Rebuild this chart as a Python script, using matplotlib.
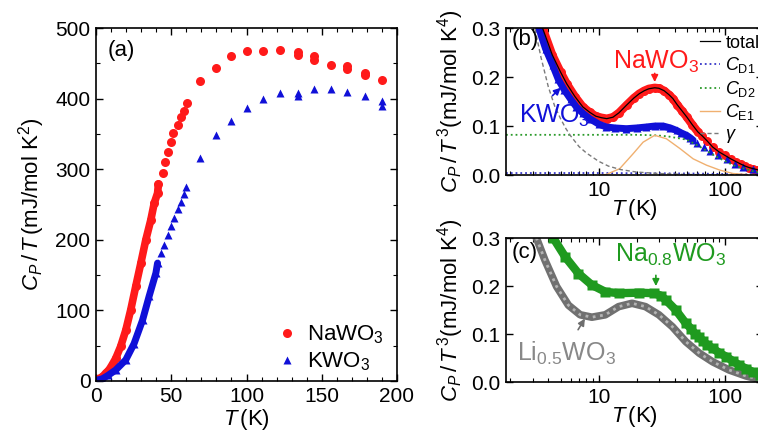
import matplotlib
matplotlib.use("Agg")
import matplotlib.pyplot as plt
from matplotlib.ticker import MultipleLocator, LogLocator, NullFormatter, FixedLocator

plt.rcParams['font.family'] = ['Liberation Sans', 'DejaVu Sans']
plt.rcParams['mathtext.fontset'] = 'custom'
plt.rcParams['mathtext.rm'] = 'Liberation Sans'
plt.rcParams['mathtext.it'] = 'Liberation Sans:italic'
plt.rcParams['mathtext.bf'] = 'Liberation Sans:bold'

RED = '#ff1a1a'
BLUE = '#1010d8'
GREEN = '#1f9a1f'
GRAY = '#6e6e6e'

# ---- panel (a): C/T vs T ----
na_T_dense = [0.5, 2, 4.2, 6.4, 8.7, 11, 13.1, 16.4, 19.8, 23.1, 26.4, 29.8, 33.1, 36.4, 38.7, 40.9, 41.5]
na_CT_dense = [3, 3.5, 6, 11, 16, 24, 32, 49, 72, 101, 134, 167, 200, 228, 252, 266, 279]
na_T_mid = [44.2, 45.8, 47.6, 49.8, 51.3, 54.2, 56.4, 58.2, 60.4]
na_CT_mid = [295, 310, 325, 339, 351, 363, 374, 382, 394]
na_T_high = [69, 80, 90, 100, 111, 122, 134, 134, 145, 145, 156, 167, 167, 179, 179, 190]
na_CT_high = [425, 443, 460, 467, 468, 469, 466, 462, 461, 455, 448, 446, 442, 436, 433, 426]

k_T_dense = [0.5, 2, 4.2, 8, 13.1, 19.8, 25.3, 30.9, 35.3, 39.8, 40.9]
k_CT_dense = [1, 2, 3, 8, 15.6, 30, 53, 86, 120, 153, 167]
k_T_mid = [43.1, 45.3, 47.6, 49.8, 52, 54.2, 56.4, 58.2, 59.8]
k_CT_mid = [181, 193, 207, 219, 231, 243, 254, 265, 275]
k_T_high = [69, 80, 90, 100, 111, 122, 134, 134, 145, 156, 167, 179, 190, 190]
k_CT_high = [316, 349, 368, 387, 399, 408, 408, 403, 413, 413, 409, 403, 396, 389]

# ---- panel (b): C/T^3 vs T (log) ----
nb_T = [3.0, 3.6, 4.3, 5.0, 5.6, 6.5, 7.5, 8.5, 9.5, 10.5, 11.6, 13, 14.5, 16.7, 19, 21, 23, 25,
        27.8, 30, 33, 36, 38.7, 42, 46, 50, 55, 61]
nb_C = [0.42, 0.30, 0.245, 0.21, 0.186, 0.16, 0.139, 0.128, 0.12, 0.117, 0.115, 0.118, 0.127, 0.143,
        0.157, 0.166, 0.172, 0.176, 0.178, 0.177, 0.172, 0.164, 0.156, 0.143, 0.13, 0.118, 0.103, 0.088]
nb_T_high = [66, 72, 80, 90, 100, 111, 123, 134, 145, 156, 167, 179, 190]
nb_C_high = [0.08, 0.07, 0.057, 0.047, 0.04, 0.033, 0.027, 0.022, 0.018, 0.015, 0.013, 0.011, 0.009]

kb_T = [3.0, 3.36, 3.8, 4.33, 4.8, 5.37, 6.0, 6.66, 7.5, 8.5, 10, 11.5, 13.5, 16.6, 20, 23.9, 28,
        32.4, 37, 41.4, 45, 49.7, 53, 56]
kb_C = [0.37, 0.3, 0.258, 0.224, 0.195, 0.173, 0.155, 0.139, 0.126, 0.115, 0.104, 0.098, 0.096,
        0.0945, 0.096, 0.098, 0.1, 0.1, 0.096, 0.091, 0.086, 0.081, 0.076, 0.071]
kb_T_high = [60, 68, 76, 88.6, 103, 120, 140, 167, 190]
kb_C_high = [0.066, 0.057, 0.05, 0.04, 0.032, 0.023, 0.016, 0.013, 0.011]

d1_T = [1.85, 10, 30, 60, 100, 200]
d1_C = [0.004, 0.004, 0.0035, 0.003, 0.002, 0.001]
d2_T = [1.85, 10, 20, 28, 35, 50, 63, 86, 116, 167, 200]
d2_C = [0.082, 0.082, 0.082, 0.081, 0.079, 0.072, 0.058, 0.037, 0.02, 0.0075, 0.004]
e1_T = [10, 11.5, 14.7, 18.7, 22.5, 27.8, 34.4, 44, 56, 71.5, 91, 116, 150]
e1_C = [0.0, 0.001, 0.013, 0.043, 0.067, 0.081, 0.074, 0.054, 0.033, 0.02, 0.01, 0.003, 0.001]
g_T = [2.9, 3.5, 4, 4.5, 5, 5.5, 6, 7, 8, 10, 12, 15, 20, 30, 50, 200]
g_C = [0.34, 0.24, 0.18, 0.14, 0.115, 0.095, 0.08, 0.058, 0.045, 0.028, 0.018, 0.011, 0.006, 0.003, 0.001, 0.0]

# ---- panel (c) ----
nac_T = [3.5, 4.38, 5.43, 6.93, 8.85, 11.3, 14.4, 20.9, 27.4, 31, 34, 40.8, 49.1, 54, 58, 62.7, 67,
         72, 80, 90, 102, 115, 130, 147, 166, 190]
nac_C = [0.37, 0.3, 0.261, 0.226, 0.202, 0.188, 0.185, 0.186, 0.185, 0.18, 0.171, 0.15, 0.122, 0.111,
         0.1, 0.094, 0.085, 0.078, 0.07, 0.061, 0.053, 0.044, 0.035, 0.028, 0.021, 0.015]
li_T = [2.8, 3.22, 3.76, 4.65, 5.77, 7.15, 8.85, 11.3, 14.4, 18.4, 23.5, 30, 38.4, 49, 62.7, 80, 108,
        147, 178, 200]
li_C = [0.36, 0.3, 0.254, 0.199, 0.16, 0.14, 0.135, 0.14, 0.157, 0.164, 0.157, 0.14, 0.115, 0.084,
        0.06, 0.042, 0.025, 0.0125, 0.007, 0.005]

W, H = 758, 445
fig = plt.figure(figsize=(W / 100, H / 100), dpi=100)

def px_axes(l, r, t, b):
    return fig.add_axes([l / W, 1 - b / H, (r - l) / W, (b - t) / H])

def style(ax):
    ax.tick_params(which='both', direction='in', top=True, right=True, labelsize=15, pad=4)
    ax.tick_params(which='major', length=5, width=1)
    ax.tick_params(which='minor', length=3, width=0.8)
    for s in ax.spines.values():
        s.set_linewidth(1.2)

arrow = '-|>,head_length=0.4,head_width=0.2'

# (a)
axa = px_axes(96, 397, 28, 381)
axa.plot(na_T_dense, na_CT_dense, '-', color=RED, lw=5.5, solid_capstyle='round')
axa.plot(na_T_dense + na_T_mid + na_T_high, na_CT_dense + na_CT_mid + na_CT_high, 'o',
         color=RED, ms=6.5, mec='none', label=r'NaWO$_3$')
axa.plot(k_T_dense, k_CT_dense, '-', color=BLUE, lw=5, solid_capstyle='round')
axa.plot(k_T_dense + k_T_mid + k_T_high, k_CT_dense + k_CT_mid + k_CT_high, '^',
         color=BLUE, ms=6, mec='none', label=r'KWO$_3$')
axa.set_xlim(0, 200)
axa.set_ylim(0, 500)
axa.xaxis.set_major_locator(MultipleLocator(50))
axa.xaxis.set_minor_locator(MultipleLocator(10))
axa.yaxis.set_major_locator(MultipleLocator(100))
axa.yaxis.set_minor_locator(MultipleLocator(50))
style(axa)
axa.set_xlabel(r'$T\,$(K)', fontsize=16, labelpad=1)
axa.set_ylabel(r'$C_P\,/\,T\,$(mJ/mol K$^2$)', fontsize=16, labelpad=6)
axa.text(0.04, 0.935, '(a)', transform=axa.transAxes, fontsize=16, va='center', ha='left')
axa.legend(loc='lower right', bbox_to_anchor=(1.0, -0.015), frameon=False, fontsize=16,
           handletextpad=0.3, labelspacing=0.2, borderaxespad=0.2, handlelength=1.2)

# (b)
axb = px_axes(506, 763, 28, 175)
axb.plot(nb_T, nb_C, '-', color=RED, lw=6, solid_capstyle='round')
axb.plot(nb_T + nb_T_high, nb_C + nb_C_high, 'o', color=RED, ms=6.5, mec='none')
axb.plot(kb_T, kb_C, '-', color=BLUE, lw=5, solid_capstyle='round')
axb.plot(kb_T + kb_T_high, kb_C + kb_C_high, '^', color=BLUE, ms=6, mec='none')
axb.plot(nb_T + nb_T_high, nb_C + nb_C_high, '-', color='black', lw=0.9, label='total')
axb.plot(d1_T, d1_C, ':', color='#3535c8', lw=1.3, label=r'$C_{\mathrm{D1}}$')
axb.plot(d2_T, d2_C, ':', color='#2a9a2a', lw=1.3, label=r'$C_{\mathrm{D2}}$')
axb.plot(e1_T, e1_C, '-', color='#f0b070', lw=1.0, label=r'$C_{\mathrm{E1}}$')
axb.plot(g_T, g_C, '--', color='#7a7a7a', lw=1.0, dashes=(3, 2), label=r'$\gamma$')
axb.annotate('', xy=(27.8, 0.184), xytext=(27.8, 0.213),
             arrowprops=dict(arrowstyle=arrow, color=RED, lw=1.2))
axb.text(0.585, 0.77, r'NaWO$_3$', transform=axb.transAxes, color=RED, fontsize=18,
         ha='center', va='center')
axb.annotate('', xy=(5.2, 0.182), xytext=(4.16, 0.158),
             arrowprops=dict(arrowstyle=arrow, color=BLUE, lw=1.2))
axb.text(0.19, 0.40, r'KWO$_3$', transform=axb.transAxes, color=BLUE, fontsize=18,
         ha='center', va='center')
axb.text(0.02, 0.92, '(b)', transform=axb.transAxes, fontsize=16, va='center', ha='left')
axb.legend(loc='upper left', bbox_to_anchor=(0.755, 0.955), frameon=False, fontsize=13,
           handlelength=1.1, handletextpad=0.3, labelspacing=0.2, borderaxespad=0,
           borderpad=0)

# (c)
axc = px_axes(506, 763, 238, 382)
axc.plot(li_T, li_C, '-', color='#707070', lw=5.5, solid_capstyle='round')
axc.plot(li_T, li_C, ':', color='#b4b4b4', lw=2.0)
axc.plot(nac_T, nac_C, '-', color=GREEN, lw=6, solid_capstyle='round')
axc.plot(nac_T, nac_C, 's', color=GREEN, ms=6.5, mec='none')
axc.annotate('', xy=(28.4, 0.194), xytext=(28.4, 0.228),
             arrowprops=dict(arrowstyle=arrow, color=GREEN, lw=1.2))
axc.text(0.64, 0.88, r'Na$_{0.8}$WO$_3$', transform=axc.transAxes, color=GREEN, fontsize=18,
         ha='center', va='center')
axc.annotate('', xy=(8.0, 0.137), xytext=(6.7, 0.104),
             arrowprops=dict(arrowstyle=arrow, color=GRAY, lw=1.2))
axc.text(0.235, 0.20, r'Li$_{0.5}$WO$_3$', transform=axc.transAxes, color='#888888', fontsize=18,
         ha='center', va='center')
axc.text(0.02, 0.90, '(c)', transform=axc.transAxes, fontsize=16, va='center', ha='left')

for ax in (axb, axc):
    ax.set_xscale('log')
    ax.set_xlim(1.85, 200)
    ax.set_ylim(0, 0.3)
    ax.xaxis.set_major_locator(FixedLocator([10, 100]))
    ax.xaxis.set_minor_locator(LogLocator(base=10, subs=range(2, 10)))
    ax.xaxis.set_minor_formatter(NullFormatter())
    ax.set_xticklabels(['10', '100'])
    ax.yaxis.set_major_locator(MultipleLocator(0.1))
    ax.yaxis.set_major_formatter(plt.FuncFormatter(lambda v, p: '%.1f' % v))
    style(ax)
    ax.set_xlabel(r'$T\,$(K)', fontsize=16, labelpad=-2)
    ax.set_ylabel(r'$C_P\,/\,T^{\,3}$(mJ/mol K$^4$)', fontsize=16, labelpad=4)

fig.savefig('out.png', dpi=100)
